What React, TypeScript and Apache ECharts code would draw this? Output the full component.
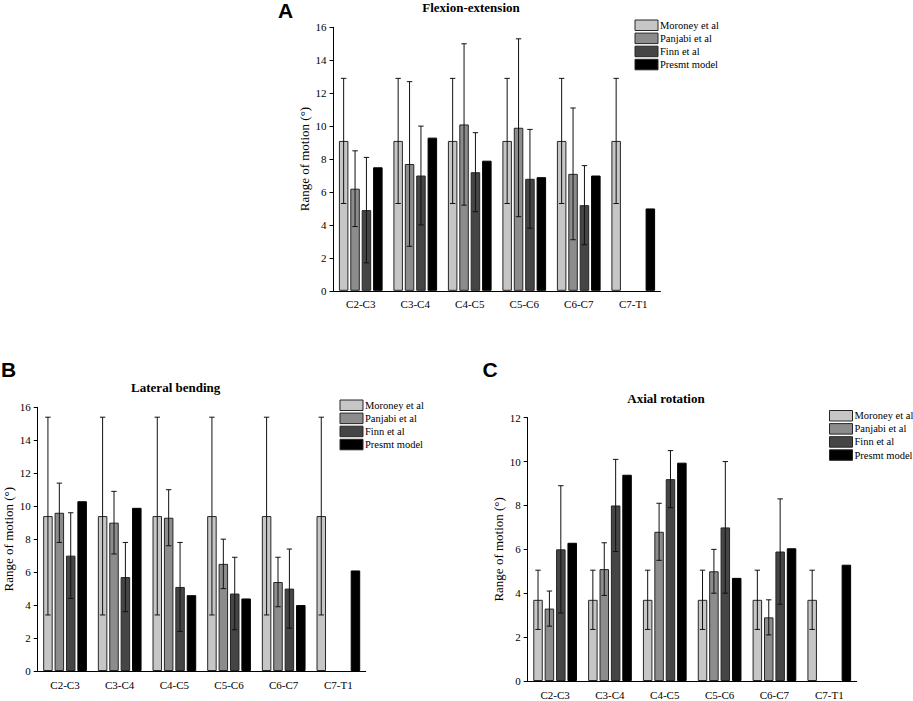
import React, { useEffect, useRef } from "react";
import * as echarts from "echarts";

const categories = ["C2-C3", "C3-C4", "C4-C5", "C5-C6", "C6-C7", "C7-T1"];
const seriesNames = ["Moroney et al", "Panjabi et al", "Finn et al", "Presmt model"];
const yTicksAB = [0, 16];
const yTicksC = [0, 12];

// Panel A: Flexion-extension (mean, SD)
const flexMoroney = [9.1, 9.1, 9.1, 9.1, 9.1, 9.1];
const flexMoroneySD = [3.8, 3.8, 3.8, 3.8, 3.8, 3.8];
const flexPanjabi = [6.2, 7.7, 10.1, 9.9, 7.1, null];
const flexPanjabiSD = [2.3, 5.0, 4.9, 5.4, 4.0, null];
const flexFinn = [4.9, 7.0, 7.2, 6.8, 5.2, null];
const flexFinnSD = [3.2, 3.0, 2.4, 3.0, 2.4, null];
const flexModel = [7.5, 9.3, 7.9, 6.9, 7.0, 5.0];

// Panel B: Lateral bending
const latMoroney = [9.4, 9.4, 9.4, 9.4, 9.4, 9.4];
const latMoroneySD = [6.0, 6.0, 6.0, 6.0, 6.0, 6.0];
const latPanjabi = [9.6, 9.0, 9.3, 6.5, 5.4, null];
const latPanjabiSD = [1.8, 1.9, 1.7, 1.5, 1.5, null];
const latFinn = [7.0, 5.7, 5.1, 4.7, 5.0, null];
const latFinnSD = [2.6, 2.1, 2.7, 2.2, 2.4, null];
const latModel = [10.3, 9.9, 4.6, 4.4, 4.0, 6.1];

// Panel C: Axial rotation
const axMoroney = [3.7, 3.7, 3.7, 3.7, 3.7, 3.7];
const axMoroneySD = [1.35, 1.35, 1.35, 1.35, 1.35, 1.35];
const axPanjabi = [3.3, 5.1, 6.8, 5.0, 2.9, null];
const axPanjabiSD = [0.8, 1.2, 1.3, 1.0, 0.8, null];
const axFinn = [6.0, 8.0, 9.2, 7.0, 5.9, null];
const axFinnSD = [2.9, 2.1, 1.3, 3.0, 2.4, null];
const axModel = [6.3, 9.4, 9.95, 4.7, 6.05, 5.3];

const colors = ["#c6c6c6", "#8c8c8c", "#454545", "#000000"];
const SERIF = "Liberation Serif, serif";
const SANS = "Liberation Sans, sans-serif";

const BAR_W = 9.5;
const BAR_GAP = 0.2;
const PITCH = BAR_W * (1 + BAR_GAP);

type Panel = {
  title: string;
  letter: string;
  grid: { left: number; top: number; width: number; height: number };
  yMax: number;
  means: (number | null)[][];
  sds: (number | null)[][];
  titlePos: [number, number];
  letterPos: [number, number];
  legendPos: [number, number];
};

const panels: Panel[] = [
  {
    title: "Flexion-extension",
    letter: "A",
    grid: { left: 333.5, top: 27.3, width: 327, height: 263.5 },
    yMax: yTicksAB[1],
    means: [flexMoroney, flexPanjabi, flexFinn, flexModel],
    sds: [flexMoroneySD, flexPanjabiSD, flexFinnSD, null as any],
    titlePos: [471, 7.5],
    letterPos: [285.5, 10.5],
    legendPos: [634.5, 19.5],
  },
  {
    title: "Lateral bending",
    letter: "B",
    grid: { left: 37.7, top: 407.3, width: 328, height: 263.7 },
    yMax: yTicksAB[1],
    means: [latMoroney, latPanjabi, latFinn, latModel],
    sds: [latMoroneySD, latPanjabiSD, latFinnSD, null as any],
    titlePos: [175.7, 387.5],
    letterPos: [8.5, 369.5],
    legendPos: [339.5, 399.5],
  },
  {
    title: "Axial rotation",
    letter: "C",
    grid: { left: 527.7, top: 417.7, width: 329, height: 263.3 },
    yMax: yTicksC[1],
    means: [axMoroney, axPanjabi, axFinn, axModel],
    sds: [axMoroneySD, axPanjabiSD, axFinnSD, null as any],
    titlePos: [666, 398],
    letterPos: [490, 369.5],
    legendPos: [829, 410],
  },
];

const labelText = (size: number) => ({
  color: "#000",
  fontFamily: SERIF,
  fontSize: size,
  fontWeight: "normal",
});

function buildOption() {
  const grid: any[] = [];
  const xAxis: any[] = [];
  const yAxis: any[] = [];
  const series: any[] = [];
  const legend: any[] = [];
  const graphic: any[] = [];

  panels.forEach((p, pi) => {
    grid.push({ ...p.grid, containLabel: false });
    xAxis.push({
      type: "category",
      gridIndex: pi,
      data: categories,
      axisLine: { lineStyle: { color: "#000", width: 1 } },
      axisTick: { alignWithLabel: true, length: 4, lineStyle: { color: "#000" } },
      axisLabel: { ...labelText(11), margin: 8 },
      splitLine: { show: false },
    });
    yAxis.push({
      type: "value",
      gridIndex: pi,
      min: 0,
      max: p.yMax,
      interval: 2,
      name: "Range of motion (°)",
      nameLocation: "middle",
      nameGap: 23,
      nameTextStyle: labelText(13),
      axisLine: { show: true, lineStyle: { color: "#000", width: 1 } },
      axisTick: { show: true, length: 4, lineStyle: { color: "#000" } },
      axisLabel: { ...labelText(11), margin: 7 },
      splitLine: { show: false },
    });

    p.means.forEach((vals, si) => {
      series.push({
        type: "bar",
        name: seriesNames[si],
        xAxisIndex: pi,
        yAxisIndex: pi,
        data: vals,
        barWidth: BAR_W,
        barGap: BAR_GAP * 100 + "%",
        itemStyle: {
          color: colors[si],
          borderColor: si === 3 ? "#000" : "#262626",
          borderWidth: 1,
        },
        emphasis: { disabled: true },
        z: 2,
      });
    });

    p.means.forEach((vals, si) => {
      const sd = p.sds[si];
      if (!sd) return;
      const data: number[][] = [];
      vals.forEach((m, ci) => {
        if (m != null && sd[ci] != null) data.push([ci, m as number, sd[ci] as number]);
      });
      const offset = (si - 1.5) * PITCH;
      series.push({
        type: "custom",
        name: "err-" + pi + "-" + si,
        xAxisIndex: pi,
        yAxisIndex: pi,
        data,
        z: 5,
        silent: true,
        renderItem: (params: any, api: any) => {
          const ci = api.value(0);
          const m = api.value(1);
          const s = api.value(2);
          const hi = api.coord([ci, m + s]);
          const lo = api.coord([ci, m - s]);
          const x = hi[0] + offset;
          const cap = 2.7;
          const st = { stroke: "#111", lineWidth: 1 };
          return {
            type: "group",
            children: [
              { type: "line", shape: { x1: x, y1: hi[1], x2: x, y2: lo[1] }, style: st },
              { type: "line", shape: { x1: x - cap, y1: hi[1], x2: x + cap, y2: hi[1] }, style: st },
              { type: "line", shape: { x1: x - cap, y1: lo[1], x2: x + cap, y2: lo[1] }, style: st },
            ],
          };
        },
      });
    });

    legend.push({
      orient: "vertical",
      left: p.legendPos[0],
      top: p.legendPos[1],
      data: seriesNames,
      icon: "rect",
      itemWidth: 23,
      itemHeight: 10.5,
      itemGap: 1.6,
      padding: 0,
      selectedMode: false,
      itemStyle: { borderColor: "#262626", borderWidth: 1 },
      textStyle: { ...labelText(10.5), lineHeight: 11, padding: [0, 0, 0, -3] },
    });

    graphic.push({
      type: "text",
      x: p.titlePos[0],
      y: p.titlePos[1],
      style: {
        text: p.title,
        font: "bold 13px " + SERIF,
        fill: "#000",
        textAlign: "center",
        textVerticalAlign: "middle",
        align: "center",
        verticalAlign: "middle",
      },
    });
    graphic.push({
      type: "text",
      x: p.letterPos[0],
      y: p.letterPos[1],
      style: {
        text: p.letter,
        font: "bold 21px " + SANS,
        fill: "#000",
        textAlign: "center",
        textVerticalAlign: "middle",
        align: "center",
        verticalAlign: "middle",
      },
    });
  });

  return {
    animation: false,
    backgroundColor: "#fff",
    textStyle: { fontFamily: SERIF, color: "#000" },
    grid,
    xAxis,
    yAxis,
    series,
    legend,
    graphic,
  };
}

export default function App() {
  const ref = useRef<HTMLDivElement>(null);
  useEffect(() => {
    if (!ref.current) return;
    const chart = echarts.init(ref.current, null, { renderer: "svg" });
    chart.setOption(buildOption() as any);
    return () => chart.dispose();
  }, []);
  return (
    <div
      ref={ref}
      style={{ position: "absolute", left: 0, top: 0, width: 913, height: 701, background: "#fff" }}
    />
  );
}
